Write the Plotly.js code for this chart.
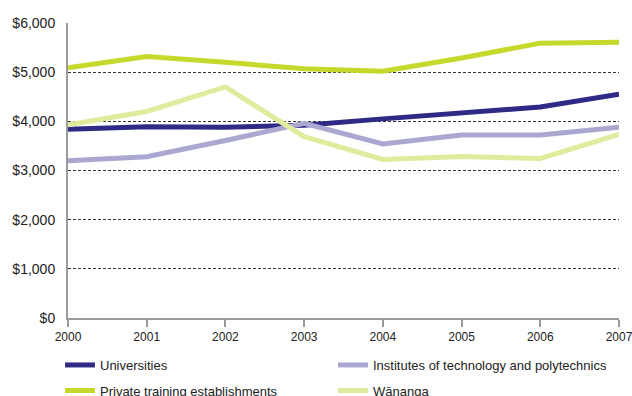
<!DOCTYPE html>
<html>
<head>
<meta charset="utf-8">
<script src="https://cdn.plot.ly/plotly-3.0.1.min.js"></script>
<style>
  html, body { margin: 0; padding: 0; background: #fff; }
  #chart { width: 632px; height: 396px; }
</style>
</head>
<body>
<div id="chart"></div>
<script>
// Average funding per student by type of tertiary provider, 2000-2007
const years = [2000, 2001, 2002, 2003, 2004, 2005, 2006, 2007];

const universities    = [3840, 3890, 3880, 3920, 4050, 4170, 4290, 4550];
const institutes      = [3200, 3280, 3610, 3960, 3540, 3720, 3720, 3880];
const privateTraining = [5090, 5320, 5200, 5070, 5020, 5290, 5590, 5610];
const wananga         = [3930, 4200, 4700, 3690, 3225, 3285, 3245, 3735];

const seriesNames = [
  'Universities',
  'Institutes of technology and polytechnics',
  'Private training establishments',
  'W\u0101nanga'
];

const yTickValues = [0, 1000, 2000, 3000, 4000, 5000, 6000];
const yTickLabels = ['$0', '$1,000', '$2,000', '$3,000', '$4,000', '$5,000', '$6,000'];

const font = 'Liberation Sans, Arial, sans-serif';

function series(y, name, color, legend) {
  return {
    x: years, y: y, name: name, type: 'scatter', mode: 'lines',
    line: { color: color, width: 5 },
    legend: legend,
    hoverinfo: 'skip'
  };
}

const data = [
  series(universities, seriesNames[0], '#2e2a85', 'legend'),
  series(institutes, seriesNames[1], '#aaa8d0', 'legend'),
  series(privateTraining, seriesNames[2], '#c5d92d', 'legend2'),
  series(wananga, seriesNames[3], '#e1eb9e', 'legend2')
];

// Two one-row legends laid out as a 2x2 key under the plot
const legendCommon = {
  orientation: 'h',
  xref: 'container', yref: 'container',
  x: 60 / 632, xanchor: 'left', yanchor: 'middle',
  entrywidth: 228, entrywidthmode: 'pixels',
  font: { family: font, size: 13, color: '#222' },
  bgcolor: 'rgba(0,0,0,0)', borderwidth: 0
};

const layout = {
  width: 632, height: 396,
  margin: { l: 68, r: 13, t: 23, b: 78, autoexpand: false },
  paper_bgcolor: '#ffffff', plot_bgcolor: '#ffffff',
  font: { family: font, color: '#222' },
  showlegend: true,
  legend: Object.assign({}, legendCommon, { y: 1 - 365 / 396 }),
  legend2: Object.assign({}, legendCommon, { y: 1 - 390.5 / 396 }),
  xaxis: {
    range: [2000, 2007],
    tickvals: years,
    ticktext: years.map(String),
    showgrid: false, zeroline: false,
    showline: true, linecolor: '#9a9a9a', linewidth: 2,
    ticks: 'outside', ticklen: 7, tickwidth: 2, tickcolor: '#9a9a9a',
    ticklabeloverflow: 'allow',
    tickfont: { family: font, size: 12, color: '#222' },
    fixedrange: true
  },
  yaxis: {
    range: [0, 6000],
    tickvals: yTickValues,
    ticktext: yTickLabels,
    showgrid: true, gridcolor: '#333', gridwidth: 1, griddash: '3px,2px',
    zeroline: false,
    showline: true, linecolor: '#9a9a9a', linewidth: 2,
    ticks: '', ticklabelstandoff: 8,
    tickfont: { family: font, size: 14, color: '#222' },
    fixedrange: true
  }
};

Plotly.newPlot('chart', data, layout, { staticPlot: true, displayModeBar: false });
</script>
</body>
</html>
